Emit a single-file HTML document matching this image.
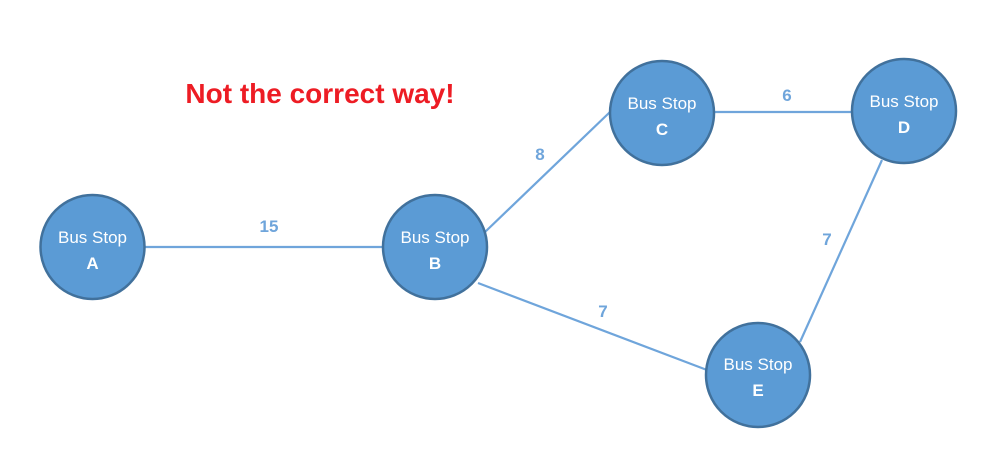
<!DOCTYPE html>
<html><head><meta charset="utf-8"><style>body{margin:0;background:#fff}svg{display:block}</style></head><body>
<svg width="996" height="460" viewBox="0 0 996 460" xmlns="http://www.w3.org/2000/svg" font-family="Liberation Sans, sans-serif">
<g stroke="#6fa5db" stroke-width="2.2">
<line x1="145" y1="247" x2="383" y2="247"/>
<line x1="485" y1="232" x2="610" y2="112"/>
<line x1="715" y1="112" x2="852" y2="112"/>
<line x1="478" y1="283" x2="707" y2="370"/>
<line x1="882" y1="160" x2="800" y2="342"/>
</g>
<g fill="#6fa5db" font-weight="bold" font-size="17" text-anchor="middle">
<text x="269" y="232">15</text>
<text x="540" y="160">8</text>
<text x="787" y="101">6</text>
<text x="603" y="317">7</text>
<text x="827" y="245">7</text>
</g>
<text x="320" y="103" fill="#ed1c24" font-weight="bold" font-size="28" text-anchor="middle">Not the correct way!</text>
<g fill="#5b9bd5" stroke="#41719c" stroke-width="2.5">
<circle cx="92.5" cy="247" r="52"/>
<circle cx="435" cy="247" r="52"/>
<circle cx="662" cy="113" r="52"/>
<circle cx="904" cy="111" r="52"/>
<circle cx="758" cy="375" r="52"/>
</g>
<g fill="#fff" font-size="17" text-anchor="middle">
<text x="92.5" y="243">Bus Stop</text><text x="92.5" y="269" font-weight="bold">A</text>
<text x="435" y="243">Bus Stop</text><text x="435" y="269" font-weight="bold">B</text>
<text x="662" y="109">Bus Stop</text><text x="662" y="135" font-weight="bold">C</text>
<text x="904" y="107">Bus Stop</text><text x="904" y="133" font-weight="bold">D</text>
<text x="758" y="370">Bus Stop</text><text x="758" y="396" font-weight="bold">E</text>
</g>
</svg>
</body></html>
